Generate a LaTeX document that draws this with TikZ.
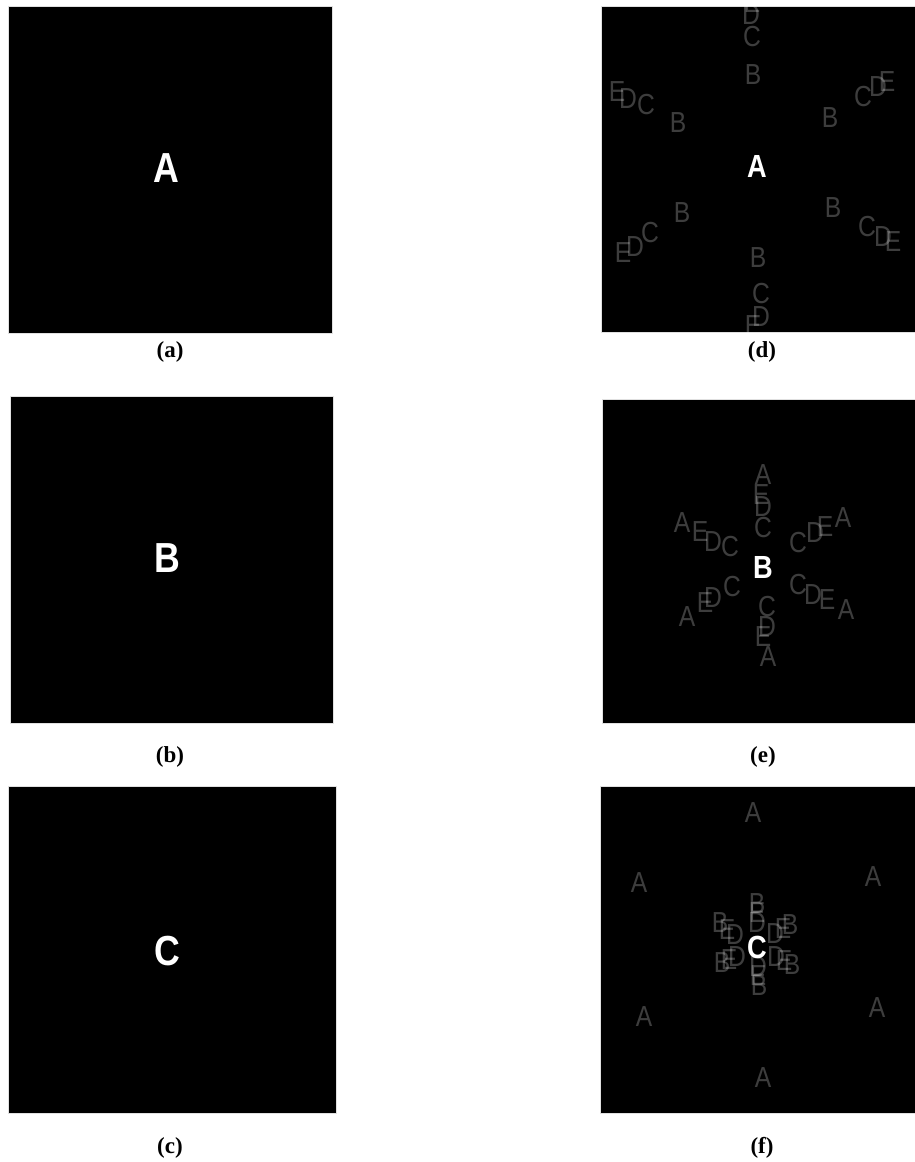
\documentclass[tikz,border=0pt]{standalone}
\usepackage{fontspec}
\setmainfont{Liberation Serif}
\newfontfamily\glyphfont[FakeStretch=0.85]{Liberation Sans}
\usepackage{tikz}
\usetikzlibrary{positioning}

\begin{document}
\begin{tikzpicture}[x=1pt,y=-1pt,
          every node/.style={inner sep=0pt},
          panel/.style={fill=black, draw=black!12, line width=1pt},
          bigletter/.style={text=white, font=\glyphfont\bfseries\fontsize{42}{42}\selectfont},
          midletter/.style={text=white, font=\glyphfont\bfseries\fontsize{32}{32}\selectfont},
          ghost/.style={text=white, text opacity=0.24, font=\glyphfont\fontsize{29}{29}\selectfont},
          caption/.style={font=\bfseries\fontsize{23}{23}\selectfont}
      ]
        \useasboundingbox (0,0) rectangle (915,1162);

        % left column: single letters
        \draw[panel] (8,6) rectangle (332,333);
        \draw[panel] (10,396) rectangle (333,723);
        \draw[panel] (8,786) rectangle (336,1113);
        \node[bigletter] (la) at (166,168) {A};
        \node[bigletter] (lb) at (167,558) {B};
        \node[bigletter] (lc) at (167,951) {C};

        % right column: letter with its neighbours
        \draw[panel] (601,6) rectangle (915,332);
        \draw[panel] (602,399) rectangle (915,723);
        \draw[panel] (600,786) rectangle (915,1113);

        \begin{scope}
          \clip (601,6) rectangle (915,332);
          \foreach \t/\x/\y [count=\i] in {B/753/75, C/752/37, D/751/15, E/752/3,
              B/678/123, C/646/105, D/628/99, E/617/92,
              B/830/118, C/863/97, D/878/87, E/887/82,
              B/682/213, C/650/233, D/635/247, E/623/253,
              B/833/208, C/867/227, D/883/237, E/893/242,
              B/758/258, C/761/294, D/761/317, E/753/326}
            \node[ghost] (d\i) at (\x,\y) {\t};
        \end{scope}
        \node[midletter] (ra) at (757,166) {A};

        \foreach \t/\x/\y [count=\i] in {C/763/528, D/763/507, E/761/495, A/763/475,
            C/730/547, D/713/542, E/700/532, A/682/523,
            C/798/543, D/815/533, E/825/527, A/843/518,
            C/732/587, D/713/598, E/705/603, A/687/617,
            C/798/585, D/813/595, E/827/600, A/846/610,
            C/767/607, D/767/627, E/763/637, A/768/657}
          \node[ghost] (e\i) at (\x,\y) {\t};
        \node[midletter] (rb) at (763,567) {B};

        \foreach \t/\x/\y [count=\i] in {D/757/923, E/757/913, B/757/904, A/753/813,
            D/735/935, E/727/930, B/720/923, A/639/883,
            D/775/934, E/783/929, B/790/925, A/873/877,
            D/737/957, E/729/960, B/722/963, A/644/1017,
            D/776/957, E/784/961, B/792/965, A/877/1008,
            D/758/967, E/758/976, B/759/986, A/763/1078}
          \node[ghost] (f\i) at (\x,\y) {\t};
        \node[midletter] (rc) at (757,947) {C};

        % captions
        \node[caption] (capa) at (170,352) {(a)};
        \node[caption] (capb) at (170,757) {(b)};
        \node[caption] (capc) at (170,1148) {(c)};
        \node[caption] (capd) at (762,352) {(d)};
        \node[caption] (cape) at (763,757) {(e)};
        \node[caption] (capf) at (762,1148) {(f)};
      \end{tikzpicture}
\end{document}
